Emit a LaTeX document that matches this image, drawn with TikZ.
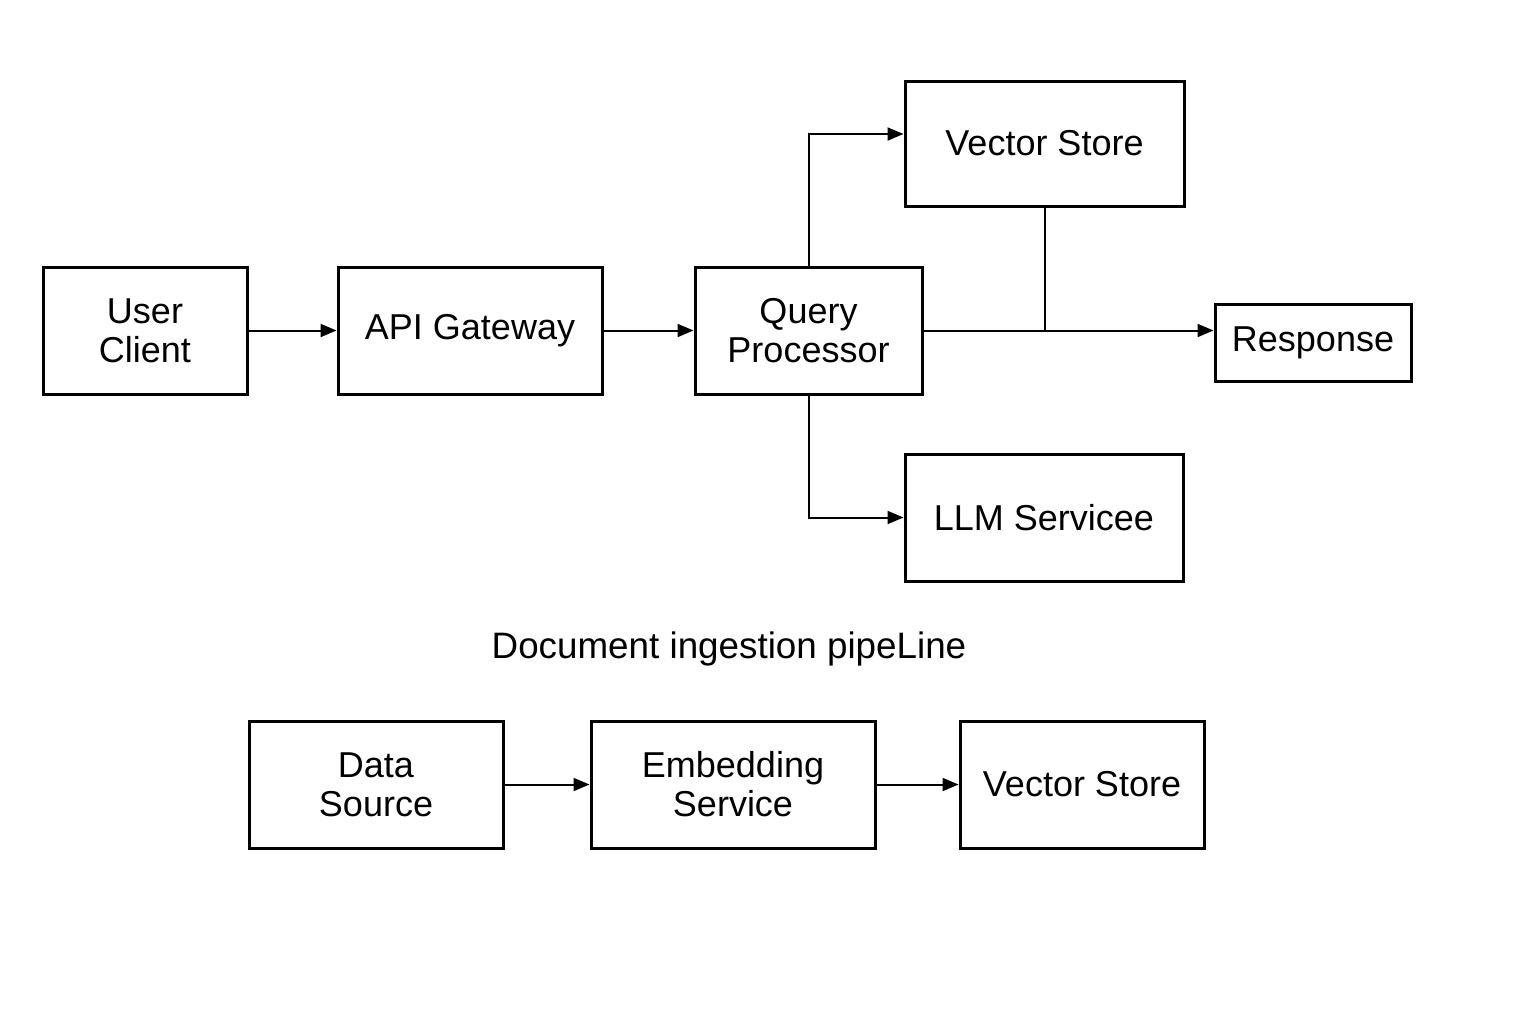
\documentclass[tikz,border=0pt]{standalone}
\usepackage{fontspec}
\setmainfont{Liberation Sans}
\usetikzlibrary{arrows.meta,positioning,calc}

\begin{document}
\begin{tikzpicture}[
  x=0.5pt, y=-0.5pt,
  font=\fontsize{18}{19.5}\selectfont,
  box/.style={draw, line width=1.5pt, align=center, inner sep=0pt},
  arr/.style={-{Triangle[length=8pt,width=6.5pt]}, line width=1pt},
  lnk/.style={line width=1pt},
  ttl/.style={font=\fontsize{18.4}{20}\selectfont}
]
\useasboundingbox[fill=white] (0,0) rectangle (1536,1024);

% ================= Row 1: query path =================
\node[box, minimum width=102pt, minimum height=63.5pt] (user) at (145,330.5) {User\\ Client};
\node[box, minimum width=132pt, minimum height=63.5pt, right=44pt of user] (api) {API Gateway};
\node[box, minimum width=113.5pt, minimum height=63.5pt, right=45pt of api] (qp) {Query\\ Processor};

\draw[arr] (user) -- (api);
\draw[arr] (api) -- (qp);

% ================= Row 1 sides =================
\node[box, minimum width=139.5pt, minimum height=62.5pt] (vs) at (1044.5,143.5) {Vector Store};
\node[box, minimum width=139pt, minimum height=63.5pt] (llm) at (1044,517.5) {LLM Servicee};
\node[box, minimum width=98pt, minimum height=38.5pt] (resp) at (1313,342.5) {Response};

\draw[arr] (qp.north) |- ([yshift=4.75pt]vs.west);
\draw[arr] (qp.south) |- (llm.west);
\draw[arr] (qp.east) -- (qp.east -| resp.west);
\draw[lnk] (vs.south) -- (vs.south |- qp.east);

% ================= Row 2: ingestion =================
\node[ttl] (title) at (729,649) {Document ingestion pipeLine};

\node[box, minimum width=127pt, minimum height=63.5pt] (src) at (376,784.5) {Data\\ Source};
\node[box, minimum width=142pt, minimum height=63.5pt, right=42.5pt of src] (emb) {Embedding\\ Service};
\node[box, minimum width=122pt, minimum height=63.5pt, right=41pt of emb] (vs2) {Vector Store};

\draw[arr] (src) -- (emb);
\draw[arr] (emb) -- (vs2);

\end{tikzpicture}
\end{document}
